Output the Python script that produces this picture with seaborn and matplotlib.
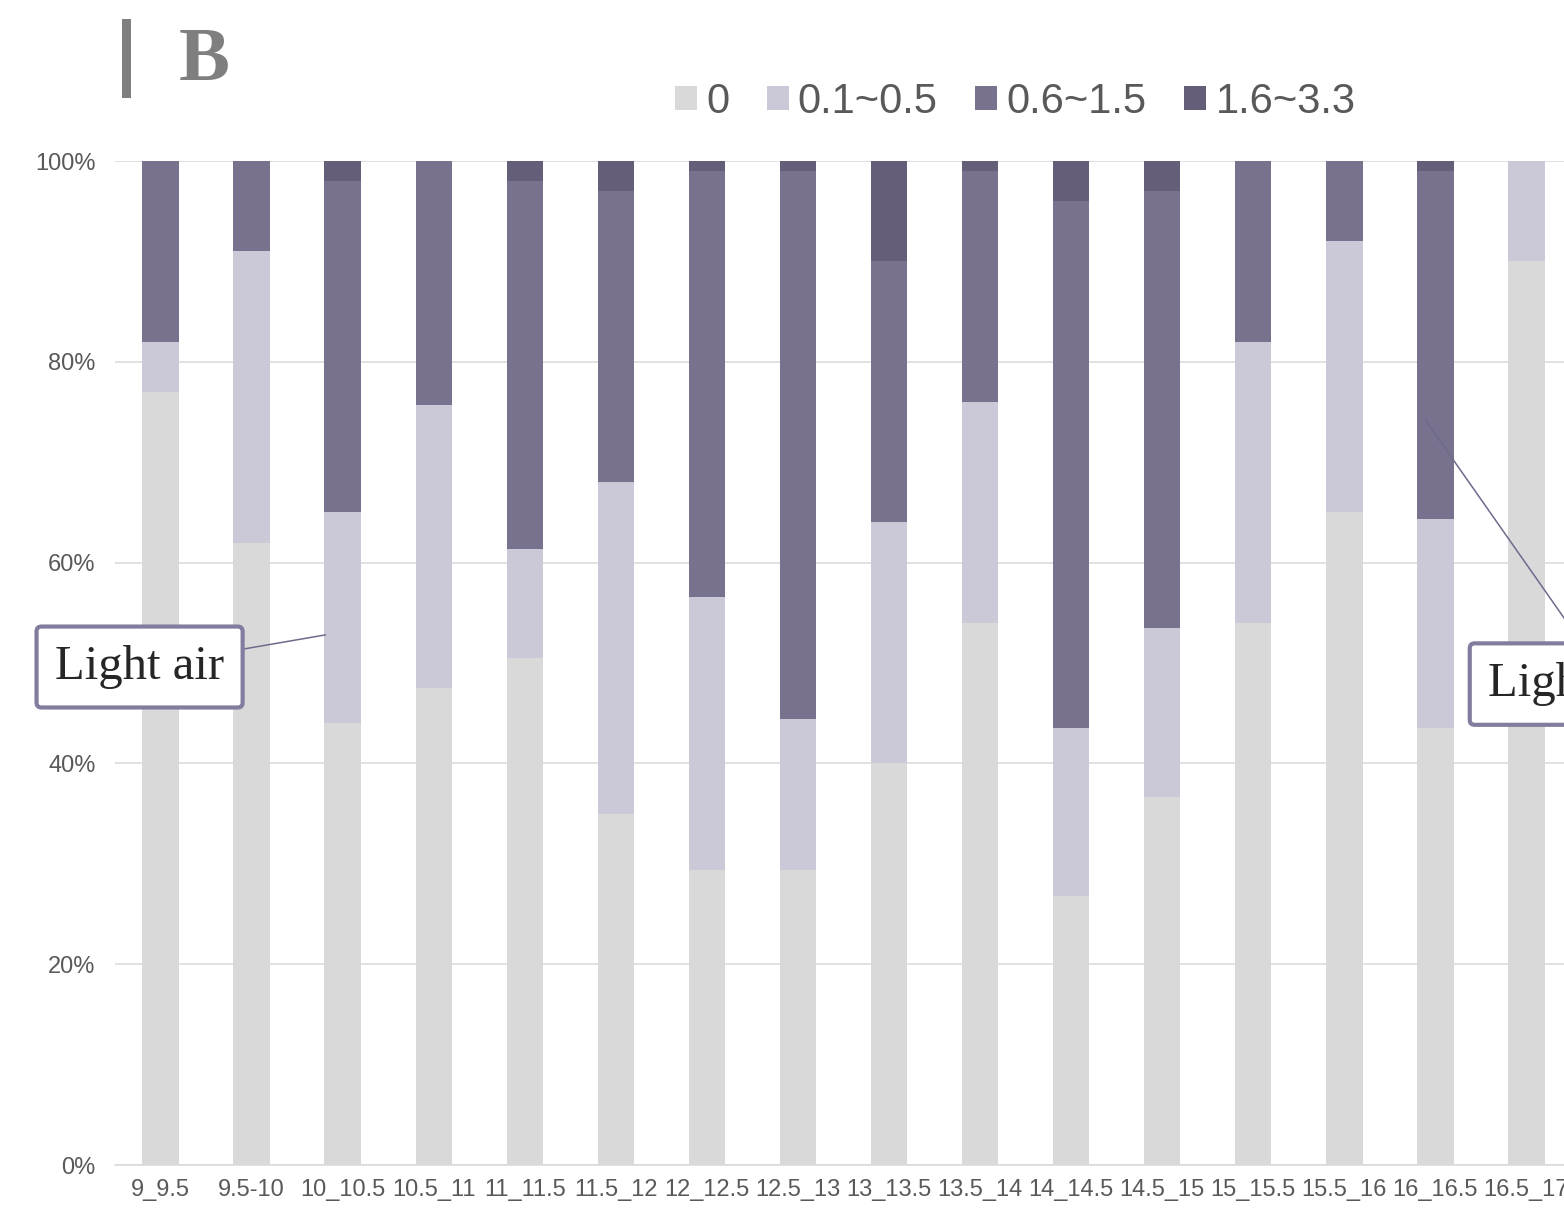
import pandas as pd
import seaborn as sns
import numpy as np
import matplotlib.pyplot as plt
from matplotlib.patches import Rectangle
from matplotlib.ticker import PercentFormatter

# wind speed share per temperature bin (%)
bins = ['9_9.5', '9.5-10', '10_10.5', '10.5_11', '11_11.5', '11.5_12', '12_12.5', '12.5_13',
        '13_13.5', '13.5_14', '14_14.5', '14.5_15', '15_15.5', '15.5_16', '16_16.5', '16.5_17']
calm = [77, 62, 44, 47.5, 50.5, 35, 29.4, 29.4, 40, 54, 26.8, 36.7, 54, 65, 43.5, 90]
low = [5, 29, 21, 28.2, 10.9, 33, 27.2, 15, 24, 22, 16.7, 16.8, 28, 27, 20.8, 10]
mid = [18, 9, 33, 24.3, 36.6, 29, 42.4, 54.6, 26, 23, 52.5, 43.5, 18, 8, 34.7, 0]
high = [0, 0, 2, 0, 2, 3, 1, 1, 10, 1, 4, 3, 0, 0, 1, 0]

series_labels = ['0', '0.1~0.5', '0.6~1.5', '1.6~3.3']
colors = ['#d9d9d9', '#cbc9d8', '#79728f', '#655e78']

sns.set_style('white')
plt.rcParams['font.family'] = ['Liberation Sans', 'DejaVu Sans']

df = pd.DataFrame({'bin': bins, 'calm': calm, 'low': low, 'mid': mid, 'high': high})
# cumulative tops for stacking
df['c1'] = df['calm']
df['c2'] = df['c1'] + df['low']
df['c3'] = df['c2'] + df['mid']
df['c4'] = df['c3'] + df['high']

fig = plt.figure(figsize=(15.64, 12.14), dpi=100)
ax = fig.add_axes([115 / 1564, 1 - 1165 / 1214, 1457 / 1564, 1004 / 1214])

# draw from the tallest stack down so lower segments sit on top
for col, lab, c in zip(['c4', 'c3', 'c2', 'c1'], series_labels[::-1], colors[::-1]):
    sns.barplot(data=df, x='bin', y=col, color=c, saturation=1, width=0.4,
                linewidth=0, errorbar=None, label=lab, ax=ax)

ax.set_xlim(-0.5, 15.5)
ax.set_ylim(0, 100)
ax.set_yticks([0, 20, 40, 60, 80, 100])
ax.yaxis.set_major_formatter(PercentFormatter(decimals=0))
ax.set_xlabel('')
ax.set_ylabel('')
ax.grid(axis='y', color='#d9d9d9', linewidth=1.1)
ax.set_axisbelow(True)
for s in ['top', 'right', 'left']:
    ax.spines[s].set_visible(False)
ax.spines['bottom'].set_color('#d9d9d9')
ax.spines['bottom'].set_linewidth(1.1)
ax.tick_params(axis='y', length=0, pad=14, labelsize=17, labelcolor='#595959')
ax.tick_params(axis='x', length=0, pad=10, labelsize=17, labelcolor='#595959')

# legend in original order
handles, labels = ax.get_legend_handles_labels()
ax.legend(handles[::-1], labels[::-1], ncol=4, loc='center',
          bbox_to_anchor=(0.649, 0.916), bbox_transform=fig.transFigure,
          frameon=False, fontsize=30, handlelength=0.53, handleheight=0.53,
          handletextpad=0.22, columnspacing=0.9, labelcolor='#595959')

# callouts
box = dict(boxstyle='round,pad=0.38,rounding_size=0.1', fc='white', ec='#847c9e', lw=3)
line = dict(arrowstyle='-', color='#6e6a8c', lw=1.1, shrinkA=0, shrinkB=0)
ax.annotate('Light air', xy=(1.81, 52.8), xytext=(-0.23, 49.6),
            fontfamily='Liberation Serif', fontsize=35, ha='center', va='center',
            bbox=box, arrowprops=line, annotation_clip=False)
ax.annotate('Light breeze', xy=(13.89, 74.2), xytext=(14.58, 47.9),
            fontfamily='Liberation Serif', fontsize=35, ha='left', va='center',
            bbox=box, arrowprops=line, annotation_clip=False)

# panel label
fig.add_artist(Rectangle((122 / 1564, 1 - 98 / 1214), 9 / 1564, 79 / 1214,
                         transform=fig.transFigure, color='#7f7f7f', lw=0))
fig.text(179 / 1564, 1 - 80 / 1214, 'B', fontfamily='Liberation Serif', fontweight='bold',
         fontsize=55, color='#7f7f7f', ha='left', va='baseline')

fig.savefig('out.png', dpi=100)
